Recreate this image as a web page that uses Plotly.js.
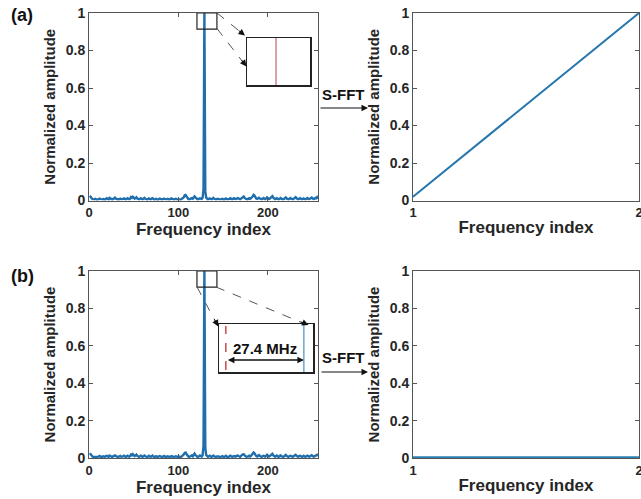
<!DOCTYPE html>
<html><head><meta charset="utf-8">
<script src="https://cdn.plot.ly/plotly-3.0.1.min.js"></script>
<style>html,body{margin:0;padding:0;background:#fff}#chart{width:641px;height:499px}</style>
</head><body><div id="chart"></div>
<script>
// ---- data ----
const ampA = [
 .025,.021,.012,.007,.005,.006,.009,.006,.004,.006,.008,.010,.007,.005,.006,.008,
 .007,.005,.009,.012,.008,.006,.014,.010,.006,.005,.008,.012,.015,.010,.007,.006,
 .005,.008,.010,.007,.006,.009,.011,.008,.006,.007,.012,.009,.006,.010,.018,.014,
 .020,.016,.010,.013,.017,.011,.007,.006,.009,.012,.008,.006,.010,.014,.009,.006,
 .005,.008,.011,.007,.006,.010,.012,.008,.005,.007,.009,.006,.004,.007,.010,.008,
 .006,.005,.008,.010,.007,.005,.006,.009,.007,.005,.008,.011,.009,.006,.005,.007,
 .009,.006,.005,.008,.007,.005,.006,.009,.012,.018,.028,.030,.022,.012,.008,.006,
 .007,.010,.013,.009,.015,.022,.017,.010,.007,.006,.009,.012,.010,.008,.014,.060,
 1.000,.050,.015,.008,.006,.009,.011,.008,.006,.010,.014,.009,.007,.006,.008,.010,
 .008,.006,.005,.007,.009,.006,.005,.008,.011,.007,.006,.005,.008,.012,.009,.006,
 .008,.012,.010,.007,.009,.013,.011,.008,.006,.010,.015,.018,.021,.014,.009,.007,
 .006,.009,.012,.008,.010,.016,.022,.030,.026,.016,.010,.008,.012,.015,.011,.008,
 .006,.009,.013,.010,.007,.011,.016,.012,.008,.010,.014,.020,.023,.015,.009,.007,
 .010,.012,.008,.006,.009,.013,.010,.007,.006,.008,.012,.016,.011,.007,.006,.009,
 .013,.010,.007,.006,.010,.014,.018,.012,.008,.006,.009,.012,.009,.006,.008,.011,
 .008,.006,.009,.013,.010,.007,.009,.012,.016,.011,.007,.009,.014,.012,.018,.010
];
const ampB = [
 .026,.020,.011,.007,.006,.005,.008,.007,.005,.006,.009,.011,.007,.005,.007,.009,
 .007,.006,.010,.012,.008,.006,.013,.011,.006,.005,.009,.013,.014,.010,.007,.006,
 .006,.008,.011,.007,.006,.009,.012,.008,.006,.008,.012,.009,.007,.011,.019,.015,
 .021,.015,.010,.014,.018,.011,.007,.006,.010,.013,.008,.006,.010,.013,.009,.006,
 .005,.008,.012,.008,.006,.010,.013,.008,.005,.007,.010,.006,.005,.008,.010,.008,
 .006,.005,.008,.011,.007,.005,.007,.009,.007,.005,.008,.010,.009,.006,.005,.007,
 .009,.006,.006,.008,.007,.005,.006,.010,.013,.019,.027,.029,.021,.012,.008,.006,
 .007,.011,.014,.009,.016,.023,.016,.010,.007,.006,.009,.013,.010,.008,.015,.065,
 1.000,.055,.016,.008,.006,.009,.012,.008,.006,.010,.013,.009,.007,.006,.008,.010,
 .008,.006,.005,.007,.010,.006,.005,.008,.012,.007,.006,.005,.009,.012,.009,.006,
 .008,.011,.010,.007,.009,.014,.011,.008,.006,.011,.016,.019,.020,.013,.009,.007,
 .006,.009,.012,.008,.011,.017,.023,.029,.025,.015,.010,.008,.012,.016,.011,.008,
 .006,.009,.012,.010,.007,.012,.017,.012,.008,.010,.015,.021,.022,.014,.009,.007,
 .010,.013,.008,.006,.009,.014,.010,.007,.006,.008,.013,.016,.011,.007,.006,.009,
 .012,.010,.007,.006,.011,.015,.017,.012,.008,.006,.010,.012,.009,.006,.008,.012,
 .008,.006,.010,.013,.010,.007,.009,.013,.015,.011,.007,.009,.013,.012,.017,.011
];
const freqIndex = ampA.map((_, i) => i + 1);   // 1..256
const sfftIndex = [1, 2];
const sfftA = [0.02, 1.0];
const sfftB = [0.003, 0.003];
// zoom-inset contents (offset in MHz across the inset window)
const insetSpan = [0, 33];
const insetRedA = 15.2;
const insetRedB = 2.4;
const insetBlueB = 29.8;
const spacingLabel = '27.4 MHz';
const leftTicks = [0, 100, 200];
const rightTicks = [1, 2];
const yTicks = [0, 0.2, 0.4, 0.6, 0.8, 1];

// ---- helpers for pixel -> paper ----
const W = 641, H = 499;
const P = x => x / W, Q = y => 1 - y / H;

const FONT = 'Liberation Sans, Arial, sans-serif';
const TXT = '#262626';
const AXC = '#555555';
const BLUE = '#1f6fae';

function xax(dom, range, ticks, anchor) {
  return {
    domain: dom, range: range, anchor: anchor, tickvals: ticks,
    ticktext: ticks.map(String), ticklabeloverflow: 'allow',
    showline: true, mirror: 'ticks', linecolor: AXC, linewidth: 1,
    ticks: 'inside', ticklen: 4, tickwidth: 1, tickcolor: AXC,
    showgrid: false, zeroline: false,
    tickfont: {family: FONT, size: 13, color: TXT, weight: 'bold'},
    title: {text: 'Frequency index', standoff: 2,
            font: {family: FONT, size: 17, color: TXT, weight: 'bold'}}
  };
}
function yax(dom, anchor) {
  return {
    domain: dom, range: [0, 1], anchor: anchor, tickvals: yTicks,
    ticktext: ['0', '0.2', '0.4', '0.6', '0.8', '1'],
    showline: true, mirror: 'ticks', linecolor: AXC, linewidth: 1,
    ticks: 'inside', ticklen: 4, tickwidth: 1, tickcolor: AXC,
    showgrid: false, zeroline: false,
    tickfont: {family: FONT, size: 14, color: TXT, weight: 'bold'},
    title: {text: 'Normalized amplitude', standoff: 6,
            font: {family: FONT, size: 15, color: TXT, weight: 'bold'}}
  };
}
function insetAx(dom, anchor, range) {
  return {domain: dom, range: range, anchor: anchor, showline: true, mirror: true,
          linecolor: '#222', linewidth: 1.5, ticks: '', showticklabels: false,
          showgrid: false, zeroline: false, fixedrange: true};
}

const LX = [P(89), P(318)], RX = [P(413), P(639)];
const TY = [Q(200.5), Q(13)], BY = [Q(458), Q(271)];

const traces = [
  {x: freqIndex, y: ampA, xaxis: 'x', yaxis: 'y', type: 'scatter', mode: 'lines',
   line: {color: BLUE, width: 2.4}},
  {x: sfftIndex, y: sfftA, xaxis: 'x2', yaxis: 'y2', type: 'scatter', mode: 'lines',
   line: {color: '#2476ad', width: 2}},
  {x: freqIndex, y: ampB, xaxis: 'x3', yaxis: 'y3', type: 'scatter', mode: 'lines',
   line: {color: BLUE, width: 2.4}},
  {x: sfftIndex, y: sfftB, xaxis: 'x4', yaxis: 'y4', type: 'scatter', mode: 'lines',
   line: {color: '#2a80b5', width: 2.5}},
  // inset (a): red line
  {x: [insetRedA, insetRedA], y: [0, 1], xaxis: 'x5', yaxis: 'y5', type: 'scatter', mode: 'lines',
   line: {color: '#c0404f', width: 1}},
  // inset (b): red dashed + blue solid
  {x: [insetRedB, insetRedB], y: [0.04, 0.96], xaxis: 'x6', yaxis: 'y6', type: 'scatter', mode: 'lines',
   line: {color: '#c0302f', width: 1.3, dash: 'dash'}},
  {x: [insetBlueB, insetBlueB], y: [0, 1], xaxis: 'x6', yaxis: 'y6', type: 'scatter', mode: 'lines',
   line: {color: '#4a8fc4', width: 1.2}}
];

function dashLine(x0, y0, x1, y1) {
  return {type: 'line', xref: 'paper', yref: 'paper', x0: P(x0), y0: Q(y0), x1: P(x1), y1: Q(y1),
          line: {color: '#555', width: 1, dash: 'dash'}};
}
function head(x, y, dx, dy) {
  return {xref: 'paper', yref: 'paper', x: P(x), y: Q(y), ax: dx, ay: dy, text: '',
          showarrow: true, arrowhead: 2, arrowsize: 1.3, arrowwidth: 1, arrowcolor: '#111'};
}
function label(text, x, y, size) {
  return {xref: 'paper', yref: 'paper', x: P(x), y: Q(y), text: text, showarrow: false,
          xanchor: 'center', yanchor: 'middle',
          font: {family: FONT, size: size, color: '#111', weight: 'bold'}};
}

const layout = {
  width: W, height: H, margin: {l: 0, r: 0, t: 0, b: 0},
  paper_bgcolor: '#fff', plot_bgcolor: '#fff', showlegend: false,
  font: {family: FONT},
  xaxis: xax(LX, [0, 256], leftTicks, 'y'),
  yaxis: yax(TY, 'x'),
  xaxis2: xax(RX, [1, 2], rightTicks, 'y2'),
  yaxis2: yax(TY, 'x2'),
  xaxis3: xax(LX, [0, 256], leftTicks, 'y3'),
  yaxis3: yax(BY, 'x3'),
  xaxis4: xax(RX, [1, 2], rightTicks, 'y4'),
  yaxis4: yax(BY, 'x4'),
  xaxis5: insetAx([P(247), P(310)], 'y5', insetSpan),
  yaxis5: insetAx([Q(85), Q(38)], 'x5', [0, 1]),
  xaxis6: insetAx([P(219), P(313)], 'y6', insetSpan),
  yaxis6: insetAx([Q(372), Q(324)], 'x6', [0, 1]),
  shapes: [
    {type: 'rect', xref: 'x', yref: 'y', x0: 120.7, x1: 143, y0: 0.914, y1: 1,
     line: {color: '#222', width: 1.2}},
    {type: 'rect', xref: 'x3', yref: 'y3', x0: 120.7, x1: 143, y0: 0.914, y1: 1,
     line: {color: '#222', width: 1.2}},
    dashLine(217, 13, 243, 34),
    dashLine(217, 28.5, 244, 63.5),
    dashLine(197, 287, 216, 322.5),
    dashLine(216, 287, 304, 323.5)
  ],
  annotations: [
    label('(a)', 22, 15, 18),
    label('(b)', 22, 276, 18),
    label('S-FFT', 343, 95, 15),
    label('S-FFT', 343, 357, 15),
    head(368, 108, -49, 0),
    head(368, 372, -48, 0),
    head(245, 35.5, -7.9, -6.2),
    head(246.5, 66.5, -6.1, -8.0),
    head(218.3, 326.5, -4.7, -8.8),
    head(308.5, 325, -9.2, -3.8),
    {xref: 'x6', yref: 'y6', x: insetBlueB, y: 0.25, axref: 'x6', ayref: 'y6',
     ax: insetRedB + 0.2, ay: 0.25, text: '', showarrow: true, arrowside: 'end+start',
     arrowhead: 2, startarrowhead: 2, arrowsize: 1, startarrowsize: 1, arrowwidth: 1.3, arrowcolor: '#111'},
    {xref: 'x6', yref: 'y6', x: (insetRedB + insetBlueB) / 2, y: 0.5, text: spacingLabel,
     showarrow: false, xanchor: 'center', yanchor: 'middle',
     font: {family: FONT, size: 15, color: '#111', weight: 'bold'}}
  ]
};

Plotly.newPlot('chart', traces, layout, {displayModeBar: false, staticPlot: true});
</script></body></html>
